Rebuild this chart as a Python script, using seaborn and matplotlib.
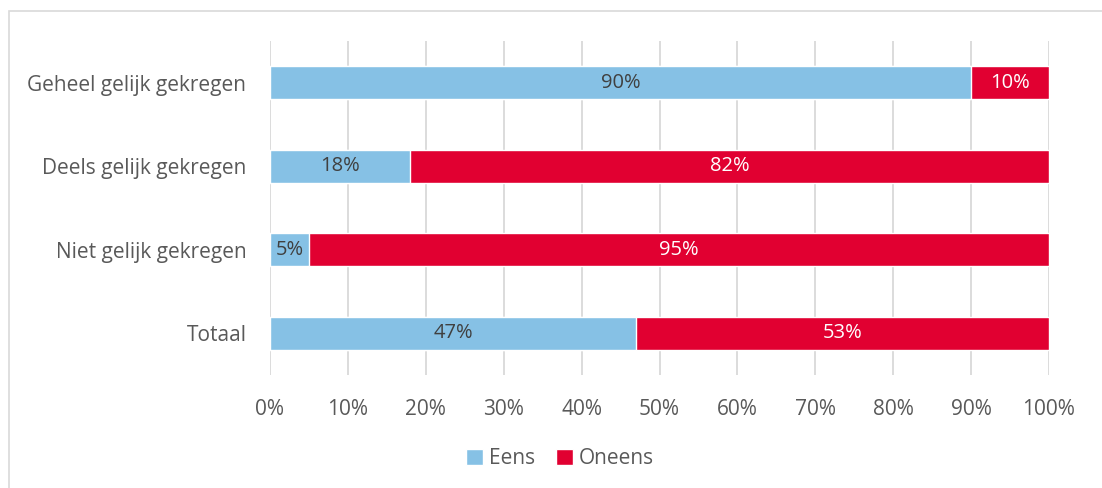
import matplotlib
matplotlib.use("Agg")
import matplotlib.pyplot as plt
from matplotlib.patches import Rectangle, Patch
import seaborn as sns
import pandas as pd

categories = ["Geheel gelijk gekregen", "Deels gelijk gekregen", "Niet gelijk gekregen", "Totaal"]
eens = [90, 18, 5, 47]
oneens = [10, 82, 95, 53]
xticks = [0, 10, 20, 30, 40, 50, 60, 70, 80, 90, 100]

BLUE = "#86C1E5"
RED = "#E10031"
TEXT = "#595959"

sns.set_theme(style="white")
plt.rcParams["font.family"] = ["Open Sans", "DejaVu Sans"]

df = pd.DataFrame({"cat": categories, "Eens": eens, "Oneens": oneens})
df["total"] = df["Eens"] + df["Oneens"]

fig = plt.figure(figsize=(11.02, 4.88), dpi=100)
ax = fig.add_axes([270 / 1102, 1 - 375 / 488, (1049 - 270) / 1102, (375 - 41) / 488])

# Stacked bars: the full-length red bar underneath, blue share on top
sns.barplot(data=df, y="cat", x="total", color=RED, orient="h", width=0.39,
            saturation=1, ax=ax, zorder=2)
sns.barplot(data=df, y="cat", x="Eens", color=BLUE, orient="h", width=0.39,
            saturation=1, ax=ax, zorder=3)

for i, (e, o) in enumerate(zip(eens, oneens)):
    ax.text(e / 2, i, f"{e}%", ha="center", va="center", fontsize=14.5,
            color="#404040", zorder=5)
    ax.text(e + o / 2, i, f"{o}%", ha="center", va="center", fontsize=14.5,
            color="white", zorder=5)

ax.set_xlim(0, 100)
ax.set_ylim(3.5, -0.5)
ax.set_xticks(xticks)
ax.set_xticklabels([f"{t}%" for t in xticks])
ax.set_xlabel("")
ax.set_ylabel("")
ax.grid(axis="x", color="#D9D9D9", linewidth=1.3, zorder=0)
ax.set_axisbelow(True)
for s in ax.spines.values():
    s.set_visible(False)
ax.tick_params(axis="x", length=0, pad=17, labelsize=15, labelcolor=TEXT)
ax.tick_params(axis="y", length=0, pad=17, labelsize=15, labelcolor=TEXT)

handles = [Patch(facecolor=BLUE, label="Eens"), Patch(facecolor=RED, label="Oneens")]
fig.legend(handles=handles, loc="center", bbox_to_anchor=(560 / 1102, 1 - 459 / 488),
           ncol=2, frameon=False, fontsize=15, handlelength=0.8, handleheight=0.8,
           handletextpad=0.3, columnspacing=1.0, labelcolor=TEXT)

# Chart-area frame
fig.patches.append(Rectangle((9 / 1102, -0.05), 1.2, 1 - 11 / 488 + 0.05,
                             transform=fig.transFigure, fill=False,
                             edgecolor="#D9D9D9", linewidth=1.2))

fig.savefig("out.png", dpi=100)
